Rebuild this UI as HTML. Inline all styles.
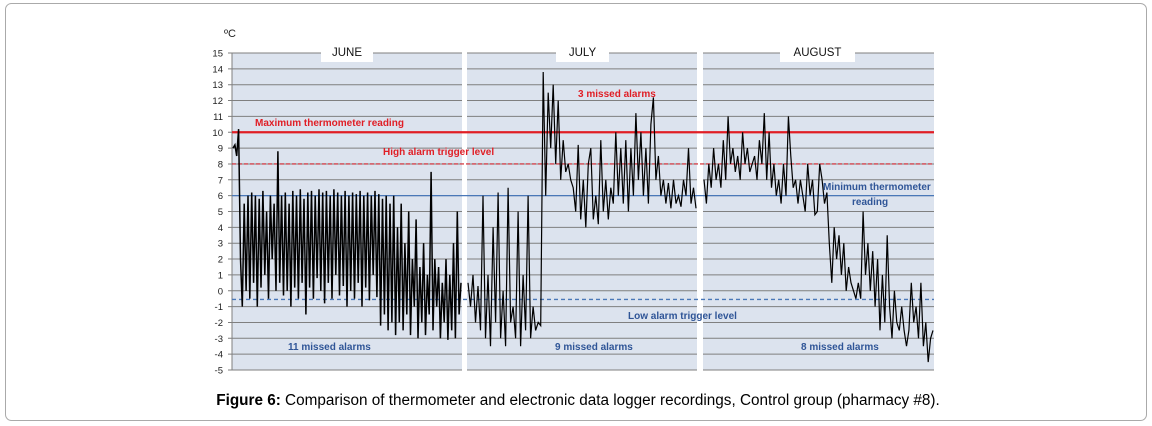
<!DOCTYPE html>
<html><head><meta charset="utf-8"><style>
body{margin:0;background:#fff;}
svg{display:block;font-family:"Liberation Sans",Arial,sans-serif;}
</style></head><body>
<svg width="1152" height="426" viewBox="0 0 1152 426">
<rect x="5.5" y="3.5" width="1141" height="417" rx="6" fill="#fff" stroke="#aaa"/>
<g id="chart"></g>
<text x="578" y="405" text-anchor="middle" font-size="15.3" fill="#000"><tspan font-weight="bold">Figure 6:</tspan> Comparison of thermometer and electronic data logger recordings, Control group (pharmacy #8).</text>
</svg>
<script>
const yTicks=[15,14,13,12,11,10,9,8,7,6,5,4,3,2,1,0,-1,-2,-3,-4,-5];
const months=["JUNE","JULY","AUGUST"];
const refLevels=[10,8,6,-0.55];
const juneVals=[9,9.2,8.5,10.2,2,-1,5.5,0,6,-0.5,6.2,0.5,6,-1,5.8,0.2,6.3,1,5,-0.5,6,2,5.5,0,8.8,0.5,6,-0.3,6.2,0,5.5,-1,6.3,0.2,6,-0.5,6.4,0.5,5.8,-1.5,6.2,0.2,6.3,-0.5,6,0.8,6.4,0,6.2,-0.8,6.3,0.5,6,-0.5,6.4,1,6.2,-0.3,6,0.3,6.3,-1,6,0,6.2,-0.5,6.1,0.5,6.3,-1,6,0.2,6.2,-0.6,6,1,6.3,-0.4,6.1,-2.2,5.8,-1.5,6,-2.5,5.5,-2,6,-2.8,4,-2,5.5,-2.5,3,-1.5,5,-2.8,2,-1,4.5,-3,1.5,-2,3,-2.8,1,-1.5,7.5,-2.5,2,-1,1.5,-3,0.5,-2,2,-3.1,1,-2.5,3,-3,5,-1.5,0.5];
const julyVals=[0.5,-1,1,-2,0.3,-2.5,6,-3,1,-3.5,4,-2,6.2,-3,0,-3.5,6.5,-2,-1,-3,5,-3.5,1,-2.5,6,-3,-1,-2.5,-2,-2.2,13.8,6,12.5,9,13,8,12,7,9.5,7.5,8,7,6.5,5,9.2,4.5,7,4,8,9,4.5,6,4.2,9.5,5,7,4.5,6.5,5.5,10,6,9,5.5,9.5,5,9,6,11.2,7,10,6,9,5.5,10.5,12.2,7,8.5,6,7,5.5,6.8,5.2,7,5.5,6,5.3,7,6,9,5.5,6.5,5.2];
const augVals=[7,5.5,8,6.5,9,7,8,6.5,9.5,7,11,8,9,7.5,8.5,7,10,8,9,7.5,8,8.5,7,9.5,8,11.2,7,10,6.5,8,6,7,5.5,8,6,11,8.5,6.5,7,5.5,7,6,5,8,6,7,4.8,5,8,7,5.5,6.2,3,0.5,4,2,3.5,1,3,0,1.5,0.5,0,-0.5,0.5,-0.5,5,1,3,0,2.5,-1,2,-2.5,1,-2,3.5,-1,-3,0,-2,-2.5,-1,-2.5,-3.5,-2.5,0.5,-2,-1,-3,0.5,-3.5,-2,-4.5,-3,-2.5];
const X0=232,X1=934,Y15=53,Y_5=370;
const y=v=>Y15+(15-v)*(Y_5-Y15)/20;
const spans=[[232,462],[467,697],[703,934]];
const widths=[1.5,1.2,1.2];
const NS="http://www.w3.org/2000/svg";
const g=document.getElementById('chart');
function mk(t,a,p){const e=document.createElementNS(NS,t);for(const k in a)e.setAttribute(k,a[k]);(p||g).appendChild(e);return e;}
spans.forEach((s,i)=>{
 const r=mk('rect',{x:s[0],y:Y15,width:s[1]-s[0],height:Y_5-Y15,fill:'#dce3ee'});
 
 
});
yTicks.forEach(v=>{
 const l=mk('line',{x1:X0-4,x2:X1,y1:y(v),y2:y(v),stroke:'#7f7f7f','stroke-width':1});
 
 
 const t=mk('text',{x:X0-9,y:y(v)+3.5,'text-anchor':'end','font-size':9.5,fill:'#222'});
 t.textContent=v;
 
 
});
[[462,467],[697,703]].forEach(s=>{mk('rect',{x:s[0],y:Y15-1,width:s[1]-s[0],height:Y_5-Y15+2,fill:'#fff'});});
mk('line',{x1:X0,x2:X0,y1:Y15,y2:Y_5,stroke:'#7f7f7f'});
const unit=mk('text',{x:224,y:37,'font-size':11,fill:'#222'});unit.textContent='ºC';


const boxes=[[321,52],[556,53],[780,75]];
months.forEach((m,i)=>{
 mk('rect',{x:boxes[i][0],y:43,width:boxes[i][1],height:19,fill:'#fff'});
 const t=mk('text',{x:boxes[i][0]+boxes[i][1]/2,y:56,'text-anchor':'middle','font-size':11.5,fill:'#111'});
 t.textContent=m;
 
 
});
const refStyles=[['#e01e25',2.2,''],['#d02028',1.2,'4,2'],['#4a78b8',1.3,''],['#4a78b8',1.4,'4,3']];
const refNames=['max-thermometer-line','high-alarm-line','min-thermometer-line','low-alarm-line'];
refLevels.forEach((v,i)=>{
 const l=mk('line',{x1:X0,x2:X1,y1:y(v),y2:y(v),stroke:refStyles[i][0],'stroke-width':refStyles[i][1]});
 if(refStyles[i][2])l.setAttribute('stroke-dasharray',refStyles[i][2]);
 
 
});
[juneVals,julyVals,augVals].forEach((arr,i)=>{
 const s=spans[i],n=arr.length;
 const pts=arr.map((v,j)=>((s[0]+1+j*(s[1]-s[0]-2)/(n-1)).toFixed(1))+','+y(v).toFixed(1)).join(' ');
 const p=mk('polyline',{points:pts,fill:'none',stroke:'#000','stroke-width':widths[i]});
 
 
});
const notes=[[255,126,'Maximum thermometer reading','#e01e25'],[383,155,'High alarm trigger level','#e01e25'],[578,97,'3 missed alarms','#e01e25'],
[823,190,'Minimum thermometer','#2f5597'],[852,205,'reading','#2f5597'],[628,319,'Low alarm trigger level','#2f5597'],
[288,350,'11 missed alarms','#2f5597'],[555,350,'9 missed alarms','#2f5597'],[801,350,'8 missed alarms','#2f5597']];
notes.forEach(n=>{
 const t=mk('text',{x:n[0],y:n[1],'font-size':10,'font-weight':'bold',fill:n[3]});
 t.textContent=n[2];
 
 
});
</script>
</body></html>
